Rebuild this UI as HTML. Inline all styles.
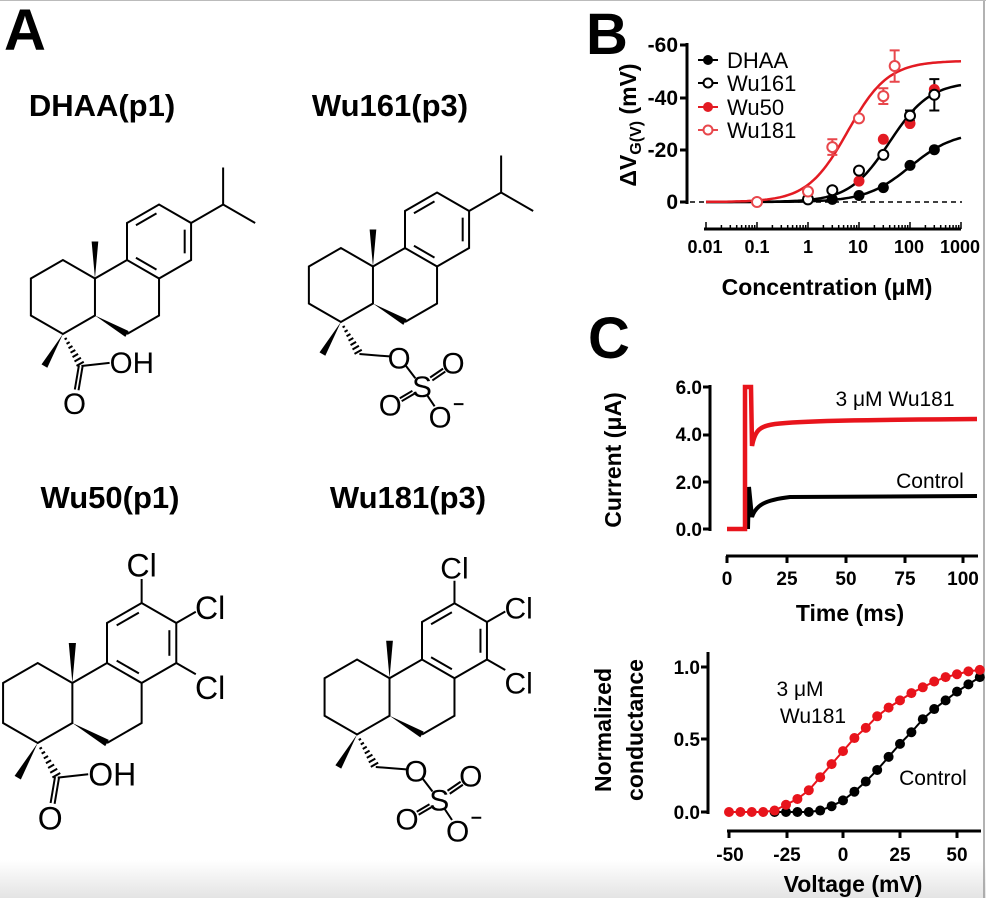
<!DOCTYPE html>
<html><head><meta charset="utf-8"><style>
body{margin:0;background:#fff}
svg{display:block;font-family:"Liberation Sans",Arial,sans-serif}
.b{font-weight:bold}
.m line,.m polyline,.m path{vector-effect:non-scaling-stroke}
</style></head><body>
<svg id="s" width="986" height="898" viewBox="0 0 986 898" xmlns="http://www.w3.org/2000/svg">
<defs>
<linearGradient id="gb" x1="0" y1="0" x2="0" y2="1"><stop offset="0" stop-color="#fff"/><stop offset="1" stop-color="#e4e4e4"/></linearGradient>
<g id="core" class="m" fill="none" stroke="#000" stroke-width="2">
<polyline points="-0.866,-0.5 -1.732,-1 -2.598,-0.5 -2.598,0.5 -1.732,1 -0.866,0.5 -0.866,-0.5 0,-1 0.866,-0.5 0.866,0.5 0,1"/>
<polyline points="0,-1 0,-2 0.866,-2.5 1.732,-2 1.732,-1 0.866,-0.5"/>
<line x1="0.242" y1="-1.94" x2="0.797" y2="-2.26"/>
<line x1="1.559" y1="-1.82" x2="1.559" y2="-1.18"/>
<line x1="0.242" y1="-1.06" x2="0.797" y2="-0.74"/>
<polygon stroke="none" fill="#000" points="-0.866,-0.5 -0.776,-1.5 -0.956,-1.5"/>
<polygon stroke="none" fill="#000" points="-0.866,0.5 0.045,0.922 -0.045,1.078"/>
<polygon stroke="none" fill="#000" points="-1.732,1 -2.154,1.911 -2.310,1.821"/>
<line x1="-1.627" y1="1.112" x2="-1.687" y2="1.147"/>
<line x1="-1.550" y1="1.218" x2="-1.634" y2="1.266"/>
<line x1="-1.474" y1="1.324" x2="-1.580" y2="1.386"/>
<line x1="-1.398" y1="1.431" x2="-1.526" y2="1.505"/>
<line x1="-1.322" y1="1.537" x2="-1.472" y2="1.624"/>
<line x1="-1.245" y1="1.643" x2="-1.419" y2="1.743"/>
<line x1="-1.169" y1="1.749" x2="-1.365" y2="1.862"/>
</g>
<g id="iso" class="m" fill="none" stroke="#000" stroke-width="2">
<polyline points="1.732,-2 2.598,-2.5 3.464,-2"/><line x1="2.598" y1="-2.5" x2="2.598" y2="-3.5"/>
</g>
<g id="cl" class="m" fill="none" stroke="#000" stroke-width="2">
<line x1="0.866" y1="-2.5" x2="0.866" y2="-3.1"/>
<line x1="1.732" y1="-2" x2="2.22" y2="-2.28"/>
<line x1="1.732" y1="-1" x2="2.22" y2="-0.72"/>
<text stroke="none" fill="#000" x="0.866" y="-3.16" font-size="0.8" text-anchor="middle">Cl</text>
<text stroke="none" fill="#000" x="2.2" y="-2.1" font-size="0.8">Cl</text>
<text stroke="none" fill="#000" x="2.2" y="-0.1" font-size="0.8">Cl</text>
</g>
<g id="cooh" class="m" fill="none" stroke="#000" stroke-width="2">
<line x1="-1.232" y1="1.866" x2="-0.47" y2="1.78"/>
<line x1="-1.20" y1="1.87" x2="-1.31" y2="2.52"/>
<line x1="-1.30" y1="1.85" x2="-1.41" y2="2.50"/>
<text stroke="none" fill="#000" x="-0.47" y="2.06" font-size="0.8">OH</text>
<text stroke="none" fill="#000" x="-1.42" y="3.16" font-size="0.8" text-anchor="middle">O</text>
</g>
<g id="so4" class="m" fill="none" stroke="#000" stroke-width="2">
<line x1="-1.232" y1="1.866" x2="-0.42" y2="1.93"/>
<line x1="0.02" y1="2.18" x2="0.28" y2="2.52"/>
<line x1="0.68" y1="2.50" x2="1.03" y2="2.26"/>
<line x1="0.74" y1="2.58" x2="1.09" y2="2.34"/>
<line x1="0.20" y1="2.86" x2="-0.14" y2="3.06"/>
<line x1="0.25" y1="2.94" x2="-0.09" y2="3.14"/>
<line x1="0.60" y1="2.98" x2="0.80" y2="3.28"/>
<line x1="1.32" y1="3.22" x2="1.58" y2="3.22"/>
<text stroke="none" fill="#000" x="-0.16" y="2.25" font-size="0.8" text-anchor="middle">O</text>
<text stroke="none" fill="#000" x="0.46" y="3.03" font-size="0.8" text-anchor="middle">S</text>
<text stroke="none" fill="#000" x="1.30" y="2.39" font-size="0.8" text-anchor="middle">O</text>
<text stroke="none" fill="#000" x="-0.40" y="3.53" font-size="0.8" text-anchor="middle">O</text>
<text stroke="none" fill="#000" x="0.95" y="3.85" font-size="0.8" text-anchor="middle">O</text>
</g>
</defs>
<rect x="0" y="860" width="986" height="38" fill="url(#gb)"/>
<line x1="984" y1="0" x2="984" y2="898" stroke="#999" stroke-width="1.5"/>
<line x1="0" y1="0.5" x2="986" y2="0.5" stroke="#bbb"/>

<text class="b" x="4" y="50" font-size="58">A</text>
<text class="b" x="586" y="54" font-size="58">B</text>
<text class="b" x="588" y="358" font-size="58">C</text>

<text class="b" x="102" y="116" font-size="31" text-anchor="middle">DHAA(p1)</text>
<text class="b" x="390" y="116" font-size="31" text-anchor="middle">Wu161(p3)</text>
<text class="b" x="110" y="508" font-size="31" text-anchor="middle">Wu50(p1)</text>
<text class="b" x="408" y="508" font-size="31" text-anchor="middle">Wu181(p3)</text>

<g transform="translate(127,297) scale(37)"><use href="#core"/><use href="#iso"/><use href="#cooh"/></g>
<g transform="translate(405,285) scale(37)"><use href="#core"/><use href="#iso"/><use href="#so4"/></g>
<g transform="translate(107,703) scale(40)"><use href="#core"/><use href="#cl"/><use href="#cooh"/></g>
<g transform="translate(422,697) scale(37.5)"><use href="#core"/><use href="#cl"/><use href="#so4"/></g>

<!-- Panel B -->
<g stroke="#000" stroke-width="3" fill="none">
<line x1="687" y1="43" x2="687" y2="204"/>
<line x1="680" y1="45" x2="687" y2="45"/><line x1="680" y1="98" x2="687" y2="98"/><line x1="680" y1="150" x2="687" y2="150"/><line x1="680" y1="202" x2="687" y2="202"/>
<line x1="704" y1="229" x2="961" y2="229"/>
</g>
<line x1="690" y1="202" x2="962" y2="202" stroke="#000" stroke-width="1.5" stroke-dasharray="5,4"/>
<g class="b" font-size="21" text-anchor="end">
<text x="678" y="52">-60</text><text x="678" y="105">-40</text><text x="678" y="157">-20</text><text x="678" y="209">0</text>
</g>
<g class="b" font-size="18" text-anchor="middle">
<text x="705" y="253">0.01</text><text x="757" y="253">0.1</text><text x="808" y="253">1</text><text x="858" y="253">10</text><text x="909" y="253">100</text><text x="960" y="253">1000</text>
</g>
<text class="b" x="827" y="295" font-size="23" text-anchor="middle">Concentration (μM)</text>
<text class="b" font-size="23" text-anchor="middle" transform="translate(636,125) rotate(-90)">ΔV<tspan font-size="16" dy="5">G(V)</tspan><tspan dy="-5"> (mV)</tspan></text>
<g font-size="22">
<text x="727" y="68">DHAA</text><text x="727" y="91">Wu161</text><text x="727" y="115">Wu50</text><text x="727" y="138">Wu181</text>
</g>
<g stroke-width="2">
<line x1="698" y1="60" x2="718" y2="60" stroke="#000"/><circle cx="708" cy="60" r="5" fill="#000"/>
<line x1="698" y1="83" x2="718" y2="83" stroke="#000"/><circle cx="708" cy="83" r="4.5" fill="#fff" stroke="#000"/>
<line x1="698" y1="107" x2="718" y2="107" stroke="#e31b23"/><circle cx="708" cy="107" r="5" fill="#e31b23"/>
<line x1="698" y1="130" x2="718" y2="130" stroke="#e8474c"/><circle cx="708" cy="130" r="4.5" fill="#fff" stroke="#e8474c"/>
</g>

<!-- Panel C top -->
<g stroke="#000" stroke-width="3" fill="none">
<line x1="710" y1="385" x2="710" y2="531"/>
<line x1="703" y1="387" x2="710" y2="387"/><line x1="703" y1="435" x2="710" y2="435"/><line x1="703" y1="482" x2="710" y2="482"/><line x1="703" y1="529" x2="710" y2="529"/>
<line x1="726" y1="556" x2="978" y2="556"/>
<line x1="727" y1="556" x2="727" y2="563"/><line x1="787" y1="556" x2="787" y2="563"/><line x1="846" y1="556" x2="846" y2="563"/><line x1="905" y1="556" x2="905" y2="563"/><line x1="963" y1="556" x2="963" y2="563"/>
</g>
<g class="b" font-size="19" text-anchor="end">
<text x="702" y="394">6.0</text><text x="702" y="441">4.0</text><text x="702" y="489">2.0</text><text x="702" y="536">0.0</text>
</g>
<g class="b" font-size="19" text-anchor="middle">
<text x="727" y="585">0</text><text x="787" y="585">25</text><text x="846" y="585">50</text><text x="905" y="585">75</text><text x="963" y="585">100</text>
</g>
<text class="b" x="850" y="621" font-size="23" text-anchor="middle">Time (ms)</text>
<text class="b" font-size="23" text-anchor="middle" transform="translate(621,460) rotate(-90)">Current (μA)</text>
<path d="M748,529 L749,487 L752,517 C756,505 765,500 790,497 L977,496" stroke="#000" stroke-width="4" fill="none"/>
<path d="M727,529 L745,529 L745,387 L751,387 L752,446 C755,430 760,426 775,424 C800,421 850,420 977,419" stroke="#e8141c" stroke-width="4.5" fill="none"/>
<text x="895" y="406" font-size="21" text-anchor="middle">3 μM Wu181</text>
<text x="930" y="488" font-size="21" text-anchor="middle">Control</text>

<!-- Panel C bottom -->
<g stroke="#000" stroke-width="3" fill="none">
<line x1="708" y1="652" x2="708" y2="814"/>
<line x1="701" y1="667" x2="708" y2="667"/><line x1="701" y1="739" x2="708" y2="739"/><line x1="701" y1="812" x2="708" y2="812"/>
<line x1="727" y1="831" x2="981" y2="831"/>
<line x1="729" y1="831" x2="729" y2="838"/><line x1="787" y1="831" x2="787" y2="838"/><line x1="843" y1="831" x2="843" y2="838"/><line x1="900" y1="831" x2="900" y2="838"/><line x1="957" y1="831" x2="957" y2="838"/>
</g>
<g class="b" font-size="19" text-anchor="end">
<text x="700" y="674">1.0</text><text x="700" y="746">0.5</text><text x="700" y="819">0.0</text>
</g>
<g class="b" font-size="19" text-anchor="middle">
<text x="730" y="861">-50</text><text x="787" y="861">-25</text><text x="843" y="861">0</text><text x="900" y="861">25</text><text x="957" y="861">50</text>
</g>
<text class="b" x="853" y="892" font-size="23" text-anchor="middle">Voltage (mV)</text>
<text class="b" font-size="23" text-anchor="middle" transform="translate(611,730) rotate(-90)">Normalized</text>
<text class="b" font-size="23" text-anchor="middle" transform="translate(643,730) rotate(-90)">conductance</text>
<text x="800" y="696" font-size="21" text-anchor="middle">3 μM</text>
<text x="813" y="723" font-size="21" text-anchor="middle">Wu181</text>
<text x="933" y="785" font-size="21" text-anchor="middle">Control</text>
<g id="dyn"></g>
</svg>
<script>
(function(){
var NS="http://www.w3.org/2000/svg",g=document.getElementById("dyn");
function el(n,a){var e=document.createElementNS(NS,n);for(var k in a)e.setAttribute(k,a[k]);g.appendChild(e);return e;}
function xB(c){return 808+51*Math.log10(c)} function yB(m){return 202-m*2.615}
function curve(mx,ec,n,col){var p=[];for(var l=-2;l<=3.001;l+=0.05){var c=Math.pow(10,l);var m=mx/(1+Math.pow(ec/c,n));p.push(xB(c).toFixed(1)+","+yB(m).toFixed(1));}el("polyline",{points:p.join(" "),fill:"none",stroke:col,"stroke-width":2.5});}
var t="";for(var d=-2;d<3;d++){for(var k=1;k<=10;k++){var x=xB(k*Math.pow(10,d));var L=(k==1||k==10)?7:4;t+="M"+x.toFixed(1)+",229 v"+(-L)+" ";}}
el("path",{d:t,stroke:"#000","stroke-width":1.5,fill:"none"});
curve(27,100,1,"#000");curve(46,40,1.1,"#000");curve(54,6,1.1,"#e31b23");
function eb(c,m,e,col){var x=xB(c);el("path",{d:"M"+x+","+yB(m-e)+"V"+yB(m+e)+"M"+(x-5)+","+yB(m-e)+"h10M"+(x-5)+","+yB(m+e)+"h10",stroke:col,"stroke-width":2,fill:"none"});}
eb(300,41,6,"#000");eb(100,33,2,"#000");eb(3,21,3,"#e8474c");eb(30,40.5,3,"#e8474c");eb(50,52,6,"#e8474c");
[[1,1],[3,1],[10,2.5],[30,5.5],[100,14],[300,20]].forEach(function(d){el("circle",{cx:xB(d[0]),cy:yB(d[1]),r:5.5,fill:"#000"});});
[[10,8],[30,24],[100,30],[300,43]].forEach(function(d){el("circle",{cx:xB(d[0]),cy:yB(d[1]),r:5.5,fill:"#e31b23"});});
[[1,1],[3,4.5],[10,12],[30,18],[100,33],[300,41]].forEach(function(d){el("circle",{cx:xB(d[0]),cy:yB(d[1]),r:5,fill:"#fff",stroke:"#000","stroke-width":2});});
[[0.1,0],[1,4],[3,21],[10,32],[30,40.5],[50,52]].forEach(function(d){el("circle",{cx:xB(d[0]),cy:yB(d[1]),r:5,fill:"#fff",stroke:"#e8474c","stroke-width":2});});
function xV(v){return 843+v*2.28} function yG(q){return 812-q*145}
var R=[0,0,0,0,0.01,0.05,0.09,0.15,0.24,0.33,0.42,0.51,0.58,0.66,0.72,0.77,0.82,0.86,0.90,0.93,0.95,0.97,0.98];
var K=[0,0,0,0,0,0,0,0,0.01,0.04,0.08,0.14,0.21,0.29,0.38,0.47,0.55,0.64,0.71,0.77,0.83,0.88,0.93];
function series(a,col,from){var p=[];for(var i=from;i<a.length;i++)p.push(xV(-50+5*i)+","+yG(a[i]));el("polyline",{points:p.join(" "),fill:"none",stroke:col,"stroke-width":2});for(var i=from;i<a.length;i++)el("circle",{cx:xV(-50+5*i),cy:yG(a[i]),r:5,fill:col});}
series(K,"#000",4);series(R,"#e8141c",0);
})();
</script>
</body></html>
